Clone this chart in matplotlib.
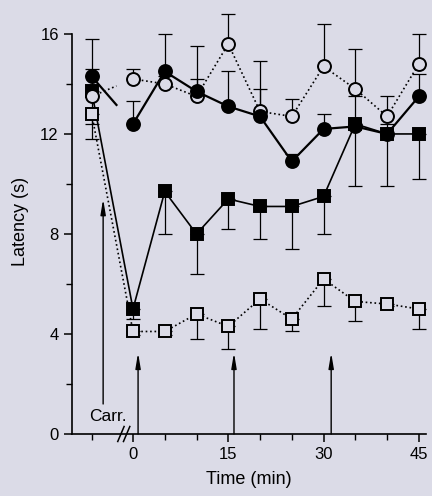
import matplotlib
matplotlib.use("Agg")
import matplotlib.pyplot as plt

plt.rcParams['font.family'] = ['Liberation Sans', 'DejaVu Sans']

BG = '#dbdbe7'

# time points (min); first one is the pre-injection baseline
t = [-6.5, 0, 5, 10, 15, 20, 25, 30, 35, 40, 45]

filled_circ = [14.3, 12.4, 14.5, 13.7, 13.1, 12.7, 10.9, 12.2, 12.3, 12.0, 13.5]
filled_circ_up = [1.5, 0.9, 1.5, 0.5, 1.4, 1.1, 0.3, 0.6, 1.2, 0.4, 0.9]

open_circ = [13.5, 14.2, 14.0, 13.5, 15.6, 12.9, 12.7, 14.7, 13.8, 12.7, 14.8]
open_circ_up = [1.1, 0.4, 0.3, 2.0, 1.2, 2.0, 0.7, 1.7, 1.6, 0.8, 1.2]

filled_sq = [13.7, 5.0, 9.7, 8.0, 9.4, 9.1, 9.1, 9.5, 12.4, 12.0, 12.0]
filled_sq_down = [1.3, 0.4, 1.7, 1.6, 1.2, 1.3, 1.7, 1.5, 2.5, 2.1, 1.8]

open_sq = [12.8, 4.1, 4.1, 4.8, 4.3, 5.4, 4.6, 6.2, 5.3, 5.2, 5.0]
open_sq_down = [1.0, 0.15, 0.15, 1.0, 0.9, 1.2, 0.5, 1.1, 0.8, 0.1, 0.8]

carr_time, carr_y = -4.7, (1.2, 9.4)
inj_times = [0.8, 15.9, 31.2]
inj_top = 3.25

fig = plt.figure(figsize=(4.32, 4.96), dpi=100, facecolor=BG)
ax = fig.add_axes([0.1667, 0.125, 0.819, 0.857])
ax.set_facecolor(BG)


def series(y, err, up, marker, face, ls, lw, break_first):
    yerr = [[0] * len(err), err] if up else [err, [0] * len(err)]
    ax.errorbar(t, y, yerr=yerr, fmt='none', ecolor='black', elinewidth=0.9,
                capsize=5, capthick=0.9, zorder=2, clip_on=False)
    if break_first:
        # line from baseline stops short of the axis break
        f = 0.6
        ax.plot([t[0], t[0] + f * (t[1] - t[0])], [y[0], y[0] + f * (y[1] - y[0])],
                color='black', ls=ls, lw=lw, zorder=3)
        ax.plot(t[1:], y[1:], color='black', ls=ls, lw=lw, zorder=3)
    else:
        ax.plot(t, y, color='black', ls=ls, lw=lw, zorder=3)
    ax.plot(t, y, ls='none', marker=marker, ms=9.3, mfc=face, mec='black',
            mew=1.4, zorder=4, clip_on=False)


series(open_sq, open_sq_down, False, 's', BG, ':', 1.2, False)
series(filled_sq, filled_sq_down, False, 's', 'black', '-', 1.2, False)
series(open_circ, open_circ_up, True, 'o', BG, ':', 1.2, True)
series(filled_circ, filled_circ_up, True, 'o', 'black', '-', 1.6, True)

# arrows
arrow = dict(arrowstyle='-|>,head_length=0.9,head_width=0.15', color='black', lw=1.0,
             shrinkA=0, shrinkB=0)
ax.annotate('', xy=(carr_time, carr_y[1]), xytext=(carr_time, carr_y[0]), arrowprops=arrow)
for x in inj_times:
    ax.annotate('', xy=(x, inj_top), xytext=(x, 0), arrowprops=arrow)
ax.text(-3.9, 0.5, 'Carr.', ha='center', va='baseline', fontsize=12.5)

ax.set_xlim(-9.6, 46.1)
ax.set_ylim(0, 17)
ax.spines['top'].set_visible(False)
ax.spines['right'].set_visible(False)
ax.spines['left'].set_bounds(0, 16)
for s in ('left', 'bottom'):
    ax.spines[s].set_linewidth(1.2)

ax.set_yticks([0, 4, 8, 12, 16])
ax.set_yticks([2, 6, 10, 14], minor=True)
ax.set_xticks([0, 15, 30, 45])
ax.set_xticks([-6.5, 5, 10, 20, 25, 35, 40], minor=True)
ax.tick_params(which='major', length=6, width=1.1, labelsize=12, direction='out')
ax.tick_params(which='minor', length=4, width=1.0, direction='out')

# axis break marks
for dx in (-1.9, -1.0):
    ax.plot([dx - 0.5, dx + 0.5], [-0.3, 0.3], color='black', lw=1.1, clip_on=False, zorder=5)

ax.set_ylabel('Latency (s)', fontsize=13, labelpad=8)
ax.set_xlabel('Time (min)', fontsize=13, labelpad=6)

fig.savefig('out.png', dpi=100, facecolor=BG)
